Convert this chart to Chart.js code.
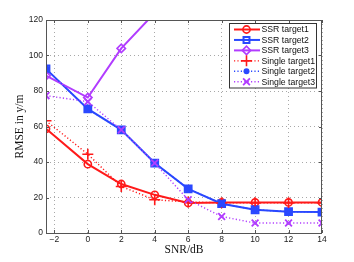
<!DOCTYPE html>
<html>
<head>
<meta charset="utf-8">
<script src="https://cdn.jsdelivr.net/npm/chart.js@4/dist/chart.umd.min.js"></script>
<style>
html,body{margin:0;padding:0;background:#fff;}
canvas{display:block;}
</style>
</head>
<body>
<canvas id="c" width="354" height="262"></canvas>
<script>
// ---- data ----
const snr = [-2.5, 0, 2, 4, 6, 8, 10, 12, 14];
const ssrTarget1 = [58.7, 38.8, 27.6, 21.5, 16.9, 17.2, 17.2, 17.2, 17.2];
const ssrTarget2 = [92.4, 69.9, 58.1, 39.4, 24.9, 16.5, 13.1, 12.0, 11.8];
const ssrTarget3 = [88.6, 76.3, 104.0, 124.0];
const singleTarget1 = [63.2, 44.4, 26.2, 18.7, 17.5, 17.0, 17.0, 17.0, 17.0];
const singleTarget2 = [92.4, 69.9, 58.1, 39.4, 24.9, 16.5, 13.1, 12.0, 11.8];
const singleTarget3 = [77.4, 74.0, 58.1, 39.4, 18.7, 9.3, 5.6, 5.6, 5.6];
const xTicks = [-2, 0, 2, 4, 6, 8, 10, 12, 14];
const xTickLabels = ['\u22122', '0', '2', '4', '6', '8', '10', '12', '14'];
const yTicks = [0, 20, 40, 60, 80, 100, 120];
const seriesNames = ['SSR target1', 'SSR target2', 'SSR target3', 'Single target1', 'Single target2', 'Single target3'];

const RED = '#ff1a1a', BLUE = '#2a48ff', PURPLE = '#b13cff';
const pts = arr => arr.map((v, i) => ({x: snr[i], y: v}));

const datasets = [
  {label: seriesNames[0], data: pts(ssrTarget1), borderColor: RED, backgroundColor: 'rgba(0,0,0,0)', borderWidth: 2,
   pointStyle: 'circle', pointRadius: 3.6, pointBorderWidth: 1.6, pointBorderColor: RED, pointBackgroundColor: 'rgba(0,0,0,0)', order: 6},
  {label: seriesNames[1], data: pts(ssrTarget2), borderColor: BLUE, backgroundColor: 'rgba(0,0,0,0)', borderWidth: 2,
   pointStyle: 'rect', pointRadius: 4.8, pointBorderWidth: 2, pointBorderColor: BLUE, pointBackgroundColor: 'rgba(0,0,0,0)', order: 5},
  {label: seriesNames[2], data: pts(ssrTarget3), borderColor: PURPLE, backgroundColor: 'rgba(0,0,0,0)', borderWidth: 2,
   pointStyle: 'rectRot', pointRadius: 4.2, pointBorderWidth: 1.6, pointBorderColor: PURPLE, pointBackgroundColor: 'rgba(0,0,0,0)', order: 4},
  {label: seriesNames[3], data: pts(singleTarget1), borderColor: RED, backgroundColor: 'rgba(0,0,0,0)', borderWidth: 1.4, borderDash: [1.2, 2.2],
   pointStyle: 'cross', pointRadius: 5.5, pointBorderWidth: 1.6, pointBorderColor: RED, pointBackgroundColor: RED, order: 3},
  {label: seriesNames[4], data: pts(singleTarget2), borderColor: BLUE, backgroundColor: 'rgba(0,0,0,0)', borderWidth: 1.4, borderDash: [1.2, 2.2],
   pointStyle: 'circle', pointRadius: 3.6, pointBorderWidth: 0, pointBorderColor: BLUE, pointBackgroundColor: BLUE, order: 2, legendRadius: 3},
  {label: seriesNames[5], data: pts(singleTarget3), borderColor: PURPLE, backgroundColor: 'rgba(0,0,0,0)', borderWidth: 1.4, borderDash: [1.2, 2.2],
   pointStyle: 'crossRot', pointRadius: 4.8, pointBorderWidth: 1.8, pointBorderColor: PURPLE, pointBackgroundColor: PURPLE, order: 1}
];

const tickFont = {family: 'Liberation Sans', size: 8.5};

// box, inward ticks and in-plot legend
const matlabPlugin = {
  id: 'matlab',
  afterDatasetsDraw(chart) {
    const {ctx, chartArea: a, scales: {x, y}} = chart;
    ctx.save();
    ctx.strokeStyle = '#555';
    ctx.lineWidth = 1;
    ctx.setLineDash([]);
    ctx.strokeRect(a.left + 0.5, a.top + 0.5, a.right - a.left - 1, a.bottom - a.top);
    ctx.beginPath();
    const tl = 3;
    x.ticks.forEach(t => {
      const px = Math.round(x.getPixelForValue(t.value)) + 0.5;
      ctx.moveTo(px, a.bottom); ctx.lineTo(px, a.bottom - tl);
      ctx.moveTo(px, a.top); ctx.lineTo(px, a.top + tl);
    });
    y.ticks.forEach(t => {
      const py = Math.round(y.getPixelForValue(t.value)) + 0.5;
      ctx.moveTo(a.left, py); ctx.lineTo(a.left + tl, py);
      ctx.moveTo(a.right, py); ctx.lineTo(a.right - tl, py);
    });
    ctx.stroke();

    // legend
    const bx = 229.5, by = 23.5, bw = 87, bh = 64.5;
    ctx.fillStyle = '#fff';
    ctx.fillRect(bx, by, bw, bh);
    ctx.strokeStyle = '#333';
    ctx.strokeRect(bx, by, bw, bh);
    ctx.font = '8.7px "Liberation Sans", Arial, sans-serif';
    ctx.textBaseline = 'middle';
    ctx.textAlign = 'left';
    chart.data.datasets.forEach((ds, i) => {
      const ry = 29.5 + 10.45 * i;
      ctx.save();
      ctx.strokeStyle = ds.borderColor;
      ctx.lineWidth = ds.borderWidth;
      ctx.setLineDash(ds.borderDash || []);
      ctx.beginPath();
      ctx.moveTo(234, ry); ctx.lineTo(260, ry);
      ctx.stroke();
      ctx.setLineDash([]);
      ctx.strokeStyle = ds.pointBorderColor;
      ctx.fillStyle = ds.pointBackgroundColor;
      ctx.lineWidth = ds.pointBorderWidth;
      const r = ds.pointStyle === 'rect' ? 4.2 : (ds.legendRadius || ds.pointRadius);
      Chart.helpers.drawPoint(ctx, {pointStyle: ds.pointStyle, radius: r, rotation: 0, borderWidth: ds.pointBorderWidth}, 246.5, ry);
      ctx.restore();
      ctx.fillStyle = '#111';
      ctx.fillText(ds.label, 261.5, ry + 0.5);
    });
    ctx.restore();
  }
};

new Chart(document.getElementById('c'), {
  type: 'line',
  data: {datasets},
  options: {
    responsive: false,
    animation: false,
    devicePixelRatio: 1,
    layout: {padding: {top: 20, right: 32, left: 0, bottom: 0}},
    plugins: {legend: {display: false}, tooltip: {enabled: false}},
    elements: {line: {tension: 0}},
    scales: {
      x: {
        type: 'linear', min: -2.5, max: 14,
        afterBuildTicks: s => { s.ticks = xTicks.map(v => ({value: v})); },
        afterFit: s => { s.height = 29; },
        ticks: {font: tickFont, color: '#222', padding: 1.5, maxRotation: 0, autoSkip: false,
          callback: (v) => { const i = xTicks.indexOf(v); return i >= 0 ? xTickLabels[i] : ''; }},
        grid: {color: '#a8a8a8', lineWidth: 1, drawTicks: false, tickLength: 0},
        border: {display: false, dash: [1, 3]},
        title: {display: true, text: 'SNR/dB', color: '#111',
          font: {family: 'Liberation Serif', size: 11.5}, padding: {top: 0, bottom: 5}}
      },
      y: {
        type: 'linear', min: 0, max: 120,
        afterBuildTicks: s => { s.ticks = yTicks.map(v => ({value: v})); },
        afterFit: s => { s.width = 46; },
        ticks: {font: tickFont, color: '#222', padding: 3, autoSkip: false},
        grid: {color: '#a8a8a8', lineWidth: 1, drawTicks: false, tickLength: 0},
        border: {display: false, dash: [1, 3]},
        title: {display: true, text: 'RMSE in y/m', color: '#111',
          font: {family: 'Liberation Serif', size: 11.5}, padding: {top: 13, bottom: 0}}
      }
    }
  },
  plugins: [matlabPlugin]
});
</script>
</body>
</html>
